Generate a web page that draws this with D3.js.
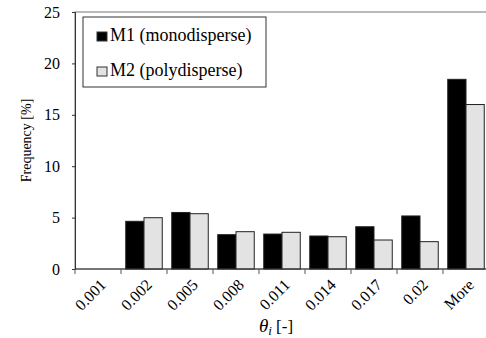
<!DOCTYPE html>
<html>
<head>
<meta charset="utf-8">
<script src="https://cdn.jsdelivr.net/npm/d3@7"></script>
<style>
  body { margin: 0; background: #fff; }
</style>
</head>
<body>
<div id="chart"></div>
<script>
const categories = ['0.001', '0.002', '0.005', '0.008', '0.011', '0.014', '0.017', '0.02', 'More'];
const seriesNames = ['M1 (monodisperse)', 'M2 (polydisperse)'];
const m1Values = [0, 4.64, 5.5, 3.34, 3.4, 3.21, 4.11, 5.16, 18.45];
const m2Values = [0, 4.99, 5.38, 3.63, 3.57, 3.14, 2.82, 2.66, 16.0];
const yTicks = [0, 5, 10, 15, 20, 25];
const colors = ['#000000', '#e3e3e3'];

const width = 486, height = 338;
const margin = { top: 12, left: 75, bottom: 69 };
const plotRight = 489;
const serif = 'Liberation Serif';

const svg = d3.select('#chart').append('svg')
  .attr('width', width)
  .attr('height', height);

const x = d3.scaleBand()
  .domain(categories)
  .range([margin.left, plotRight]);

const xSub = d3.scaleBand()
  .domain(seriesNames)
  .range([0, x.bandwidth()])
  .paddingOuter(0.26);

const y = d3.scaleLinear()
  .domain([0, 25])
  .range([height - margin.bottom, margin.top]);

// plot frame
svg.append('rect')
  .attr('x', margin.left)
  .attr('y', margin.top)
  .attr('width', plotRight - margin.left)
  .attr('height', y(0) - margin.top)
  .attr('fill', 'none')
  .attr('stroke', '#777');

const rows = categories.map((c, i) => ({ cat: c, vals: [m1Values[i], m2Values[i]] }));

const groups = svg.append('g').selectAll('g')
  .data(rows)
  .join('g')
  .attr('transform', d => `translate(${x(d.cat)},0)`);

groups.selectAll('rect')
  .data(d => d.vals.map((v, k) => ({ name: seriesNames[k], v, k })))
  .join('rect')
  .filter(d => d.v > 0)
  .attr('x', d => xSub(d.name))
  .attr('y', d => y(d.v))
  .attr('width', xSub.bandwidth())
  .attr('height', d => y(0) - y(d.v))
  .attr('fill', d => colors[d.k])
  .attr('stroke', '#222');

// y axis
const yAxis = svg.append('g')
  .attr('transform', `translate(${margin.left},0)`)
  .call(d3.axisLeft(y).tickValues(yTicks).tickSize(3).tickPadding(12));
yAxis.attr('font-family', serif).attr('font-size', 16);
yAxis.select('.domain').attr('stroke', '#333');
yAxis.selectAll('.tick line').attr('stroke', '#333');
yAxis.selectAll('.tick text').attr('fill', '#000');

// x axis: ticks at band edges
const xAxisG = svg.append('g').attr('transform', `translate(0,${y(0)})`);
xAxisG.append('line')
  .attr('x1', margin.left).attr('x2', plotRight)
  .attr('stroke', '#333');
xAxisG.selectAll('line.tk')
  .data(categories)
  .join('line')
  .attr('class', 'tk')
  .attr('x1', d => x(d)).attr('x2', d => x(d))
  .attr('y1', 0).attr('y2', 5)
  .attr('stroke', '#555');
xAxisG.selectAll('text')
  .data(categories)
  .join('text')
  .attr('transform', d => `translate(${x(d) + x.bandwidth() / 2 + 5},${13}) rotate(-45)`)
  .attr('text-anchor', 'end')
  .attr('dy', '0.35em')
  .attr('font-family', serif)
  .attr('font-size', 16)
  .text(d => d);

// axis titles
svg.append('text')
  .attr('transform', `translate(31,${(margin.top + y(0)) / 2}) rotate(-90)`)
  .attr('text-anchor', 'middle')
  .attr('font-family', serif)
  .attr('font-size', 14)
  .text('Frequency [%]');

const xt = svg.append('text')
  .attr('x', 276)
  .attr('y', 332)
  .attr('text-anchor', 'middle')
  .attr('font-family', serif)
  .attr('font-size', 17);
xt.append('tspan').attr('font-style', 'italic').attr('font-size', 19).text('θ');
xt.append('tspan').attr('font-style', 'italic').attr('font-size', 13).attr('dy', 3).text('i');
xt.append('tspan').attr('dy', -3).text(' [-]');

// legend
const legend = svg.append('g').attr('transform', 'translate(83,17)');
legend.append('rect')
  .attr('width', 183).attr('height', 70)
  .attr('fill', '#fff')
  .attr('stroke', '#333');
seriesNames.forEach((name, k) => {
  const row = legend.append('g').attr('transform', `translate(14,${19.5 + k * 35})`);
  row.append('rect')
    .attr('x', 0).attr('y', -4.5)
    .attr('width', 10).attr('height', 9)
    .attr('fill', colors[k])
    .attr('stroke', '#333');
  row.append('text')
    .attr('x', 13)
    .attr('y', 4)
    .attr('font-family', serif)
    .attr('font-size', 18)
    .text(name);
});
</script>
</body>
</html>
